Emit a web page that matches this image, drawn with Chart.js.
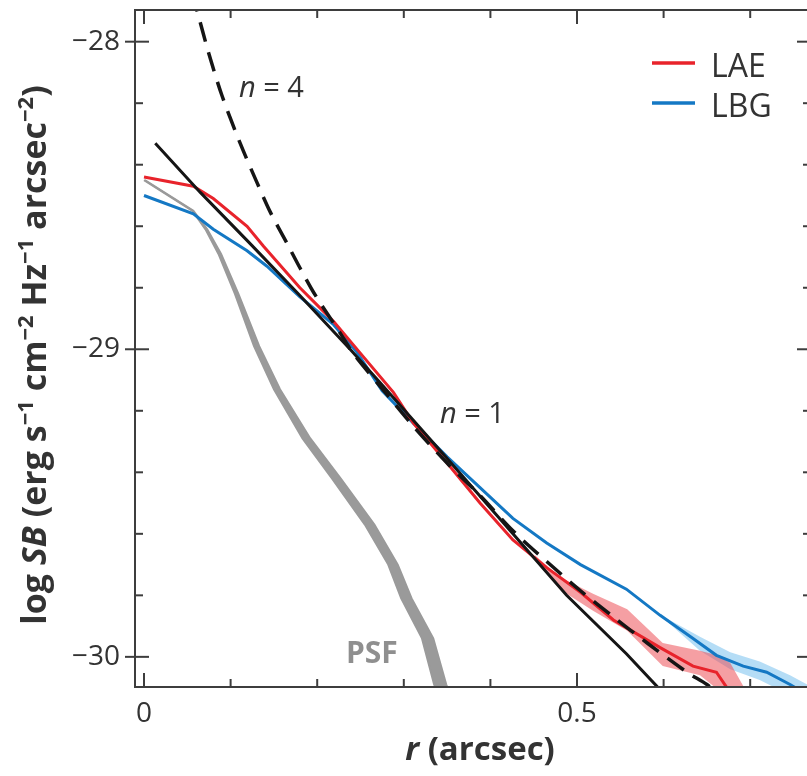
<!DOCTYPE html>
<html>
<head>
<meta charset="utf-8">
<script src="https://cdn.jsdelivr.net/npm/chart.js@4.4.1/dist/chart.umd.min.js"></script>
<style>
html,body{margin:0;padding:0;overflow:hidden;background:#ffffff;}
#wrap{position:absolute;left:0;top:0;width:815px;height:776px;}
</style>
</head>
<body>
<div id="wrap"><canvas id="c"></canvas></div>
<script>
// ---------------- DATA ----------------
// LAE stacked profile
const laeR  = [0.000, 0.057, 0.080, 0.119, 0.138, 0.180, 0.219, 0.249, 0.288, 0.311, 0.350, 0.388, 0.426, 0.465, 0.504, 0.542, 0.596, 0.634, 0.661, 0.673, 0.677];
const laeSB = [-28.44, -28.47, -28.51, -28.60, -28.665, -28.80, -28.91, -29.01, -29.14, -29.24, -29.37, -29.50, -29.62, -29.71, -29.79, -29.88, -29.97, -30.03, -30.05, -30.10, -30.12];
// LAE uncertainty band
const laeBandR  = [0.4515, 0.480, 0.5185, 0.558, 0.599, 0.642, 0.662, 0.677, 0.694];
const laeBandHi = [-29.67, -29.74, -29.795, -29.845, -29.955, -29.98, -29.995, -30.02, -30.105];
const laeBandLo = [-29.68, -29.78, -29.85, -29.915, -30.03, -30.06, -30.105, -30.135, -30.15];
// LBG stacked profile
const lbgR  = [0.000, 0.057, 0.080, 0.119, 0.142, 0.180, 0.219, 0.246, 0.275, 0.311, 0.350, 0.388, 0.426, 0.465, 0.504, 0.557, 0.596, 0.634, 0.661, 0.692, 0.719, 0.746, 0.758];
const lbgSB = [-28.50, -28.56, -28.61, -28.68, -28.73, -28.83, -28.92, -29.01, -29.135, -29.24, -29.35, -29.45, -29.55, -29.63, -29.70, -29.78, -29.865, -29.94, -29.995, -30.03, -30.05, -30.09, -30.11];
// LBG uncertainty band
const lbgBandR  = [0.600, 0.642, 0.677, 0.711, 0.746, 0.769];
const lbgBandHi = [-29.87, -29.935, -29.985, -30.015, -30.06, -30.095];
const lbgBandLo = [-29.875, -29.98, -30.04, -30.075, -30.125, -30.15];
// Sersic n = 1 model
const n1R  = [0.013, 0.065, 0.122, 0.180, 0.238, 0.273, 0.350, 0.426, 0.488, 0.557, 0.592, 0.600];
const n1SB = [-28.33, -28.49, -28.655, -28.825, -29.00, -29.11, -29.355, -29.60, -29.80, -29.99, -30.095, -30.12];
// Sersic n = 4 model
const n4R  = [0.055, 0.061, 0.075, 0.090, 0.111, 0.130, 0.146, 0.165, 0.180, 0.198, 0.226, 0.242, 0.280, 0.311, 0.350, 0.388, 0.426, 0.465, 0.504, 0.542, 0.581, 0.627, 0.650, 0.665];
const n4SB = [-27.84, -27.897, -28.04, -28.175, -28.33, -28.455, -28.555, -28.655, -28.735, -28.825, -28.945, -29.015, -29.145, -29.25, -29.37, -29.475, -29.59, -29.69, -29.785, -29.87, -29.955, -30.05, -30.09, -30.125];
// PSF band: left (inner) edge and right (outer) edge
const psfLoR  = [0.000, 0.056, 0.071, 0.086, 0.105, 0.127, 0.150, 0.183, 0.217, 0.255, 0.282, 0.297, 0.321, 0.335, 0.352];
const psfLoSB = [-28.45, -28.55, -28.61, -28.69, -28.82, -28.99, -29.13, -29.29, -29.42, -29.57, -29.70, -29.81, -29.94, -30.09, -30.20];
const psfHiR  = [0.001, 0.057, 0.073, 0.089, 0.109, 0.133, 0.157, 0.192, 0.227, 0.266, 0.293, 0.309, 0.334, 0.349, 0.356];
const psfHiSB = [-28.45, -28.55, -28.61, -28.69, -28.82, -28.99, -29.13, -29.29, -29.42, -29.57, -29.70, -29.81, -29.94, -30.09, -30.14];
// Axis ticks
const xTickLabels = [0, 0.5];
const xMinorTicks = [0.1, 0.2, 0.3, 0.4, 0.6, 0.7];
const yTickLabels = [-30, -29, -28];
const yMinorTicks = [-29.8, -29.6, -29.4, -29.2, -28.8, -28.6, -28.4, -28.2];
// ---------------------------------------------------------------

const RED = '#e8232b', BLUE = '#1478c4', BLACK = '#151515', GRAY = '#9a9a9a';
const AXIS = '#3d3d3d', TEXT = '#333333';
const FONT = '"Open Sans", "Noto Sans", sans-serif';
const AREA = { left: 135, top: 10, right: 811, bottom: 687 };

function pts(xs, ys) { return xs.map((v, i) => ({ x: v, y: ys[i] })); }

function drawRich(ctx, parts, x, y, align) {
  let w = 0;
  parts.forEach(p => { ctx.font = p.font; p.w = ctx.measureText(p.text).width; w += p.w; });
  let cx = align === 'center' ? x - w / 2 : (align === 'right' ? x - w : x);
  ctx.textAlign = 'left';
  ctx.textBaseline = 'alphabetic';
  parts.forEach(p => { ctx.font = p.font; ctx.fillText(p.text, cx, y + (p.dy || 0)); cx += p.w; });
}

const framePlugin = {
  id: 'frameAndText',
  afterDraw(chart) {
    const { ctx, chartArea: a, scales: { x, y } } = chart;
    ctx.save();
    ctx.strokeStyle = AXIS;
    ctx.lineWidth = 2;
    const seg = (x1, y1, x2, y2) => { ctx.beginPath(); ctx.moveTo(x1, y1); ctx.lineTo(x2, y2); ctx.stroke(); };
    ctx.strokeRect(a.left, a.top, a.right - a.left, a.bottom - a.top);
    yMinorTicks.forEach(v => { const p = y.getPixelForValue(v); seg(a.left, p, a.left + 8, p); seg(a.right, p, a.right - 8, p); });
    yTickLabels.forEach(v => { const p = y.getPixelForValue(v); seg(a.left - 10, p, a.left + 14, p); seg(a.right, p, a.right - 14, p); });
    xMinorTicks.forEach(v => { const p = x.getPixelForValue(v); seg(p, a.bottom, p, a.bottom - 8); seg(p, a.top, p, a.top + 8); });
    xTickLabels.forEach(v => { const p = x.getPixelForValue(v); seg(p, a.bottom, p, a.bottom - 14); seg(p, a.top, p, a.top + 14); });

    // legend (from datasets)
    const legendItems = chart.data.datasets.filter(d => d.label === 'LAE' || d.label === 'LBG')
      .sort((d1, d2) => (d1.label < d2.label ? -1 : 1));
    legendItems.forEach((d, i) => {
      const ly = 63 + i * 40;
      ctx.strokeStyle = d.borderColor; ctx.lineWidth = 3.5;
      seg(652, ly, 695, ly);
      ctx.fillStyle = TEXT;
      ctx.font = '32px ' + FONT;
      ctx.textAlign = 'left'; ctx.textBaseline = 'alphabetic';
      ctx.fillText(d.label, 711, ly + 14);
    });

    // annotations
    ctx.fillStyle = TEXT;
    drawRich(ctx, [{ text: 'n', font: 'italic 29px ' + FONT }, { text: ' = 4', font: '29px ' + FONT }], 239, 97, 'left');
    drawRich(ctx, [{ text: 'n', font: 'italic 29px ' + FONT }, { text: ' = 1', font: '29px ' + FONT }], 440, 423, 'left');
    ctx.fillStyle = '#8f8f8f';
    drawRich(ctx, [{ text: 'PSF', font: 'bold 30px ' + FONT }], 346, 663, 'left');

    // axis titles
    ctx.fillStyle = TEXT;
    const B = 'bold 34px ' + FONT, BI = 'italic bold 34px ' + FONT, S = 'bold 22px ' + FONT;
    drawRich(ctx, [{ text: 'r', font: 'italic bold 33px ' + FONT }, { text: ' (arcsec)', font: 'bold 33px ' + FONT }], 480, 760, 'center');
    ctx.save();
    ctx.translate(46, 355);
    ctx.rotate(-Math.PI / 2);
    drawRich(ctx, [
      { text: 'log ', font: B }, { text: 'SB', font: BI }, { text: ' (erg s', font: B },
      { text: '−1', font: S, dy: -13 }, { text: ' cm', font: B }, { text: '−2', font: S, dy: -13 },
      { text: ' Hz', font: B }, { text: '−1', font: S, dy: -13 }, { text: ' arcsec', font: B },
      { text: '−2', font: S, dy: -13 }, { text: ')', font: B }
    ], 0, 0, 'center');
    ctx.restore();
    ctx.restore();
  }
};

function build() {
  const line = (label, xs, ys, color, width, extra) => Object.assign({
    label, data: pts(xs, ys), showLine: true, borderColor: color, backgroundColor: color,
    borderWidth: width, pointRadius: 0, pointHoverRadius: 0, fill: false, tension: 0
  }, extra || {});

  const chart = new Chart(document.getElementById('c'), {
    type: 'scatter',
    data: {
      datasets: [
        line('n = 4', n4R, n4SB, BLACK, 3.5, { borderDash: [20, 11], tension: 0.3 }),
        line('n = 1', n1R, n1SB, BLACK, 3),
        line('LAE', laeR, laeSB, RED, 3),
        line('LBG', lbgR, lbgSB, BLUE, 3),
        line('LAE band', laeBandR, laeBandHi, 'rgba(0,0,0,0)', 0, { fill: '+1', backgroundColor: 'rgba(236,80,88,0.55)' }),
        line('LAE band low', laeBandR, laeBandLo, 'rgba(0,0,0,0)', 0),
        line('LBG band', lbgBandR, lbgBandHi, 'rgba(0,0,0,0)', 0, { fill: '+1', backgroundColor: 'rgba(90,180,235,0.45)' }),
        line('LBG band low', lbgBandR, lbgBandLo, 'rgba(0,0,0,0)', 0),
        line('PSF', psfLoR, psfLoSB, GRAY, 2, { fill: '+1', backgroundColor: GRAY }),
        line('PSF edge', psfHiR, psfHiSB, GRAY, 2)
      ]
    },
    options: {
      responsive: true,
      maintainAspectRatio: false,
      devicePixelRatio: 1,
      animation: false,
      events: [],
      layout: { autoPadding: false, padding: { left: 0, top: AREA.top, right: 815 - AREA.right, bottom: 0 } },
      plugins: { legend: { display: false }, tooltip: { enabled: false }, title: { display: false } },
      scales: {
        x: {
          type: 'linear', min: -0.0104, max: 0.7702,
          grid: { display: false, drawTicks: false }, border: { display: false },
          afterBuildTicks: s => { s.ticks = xTickLabels.map(v => ({ value: v })); },
          afterFit: s => { s.height = 776 - AREA.bottom; s.paddingLeft = 0; s.paddingRight = 0; s.paddingTop = 0; s.paddingBottom = 0; },
          ticks: {
            padding: 10, color: TEXT, font: { family: FONT, size: 28 },
            maxRotation: 0, autoSkip: false,
            callback: v => String(v)
          }
        },
        y: {
          type: 'linear', min: -30.098, max: -27.897,
          grid: { display: false, drawTicks: false }, border: { display: false },
          afterBuildTicks: s => { s.ticks = yTickLabels.map(v => ({ value: v })); },
          afterFit: s => { s.width = AREA.left; s.paddingLeft = 0; s.paddingRight = 0; s.paddingTop = 0; s.paddingBottom = 0; },
          ticks: {
            padding: 15, color: TEXT, font: { family: FONT, size: 28 }, autoSkip: false,
            callback: v => String(v).replace('-', '−')
          }
        }
      }
    },
    plugins: [framePlugin]
  });

  // keep the plot frame where the reference has it
  const dt = chart.chartArea.top - AREA.top;
  if (Math.abs(dt) > 0.5) {
    chart.options.layout.padding.top = AREA.top - dt;
    chart.update();
  }
}

if (document.fonts && document.fonts.load) {
  Promise.all([
    document.fonts.load('28px "Open Sans"'),
    document.fonts.load('bold 34px "Open Sans"'),
    document.fonts.load('italic bold 34px "Open Sans"'),
    document.fonts.load('italic 29px "Open Sans"')
  ]).then(build, build);
} else { build(); }
</script>
</body>
</html>
